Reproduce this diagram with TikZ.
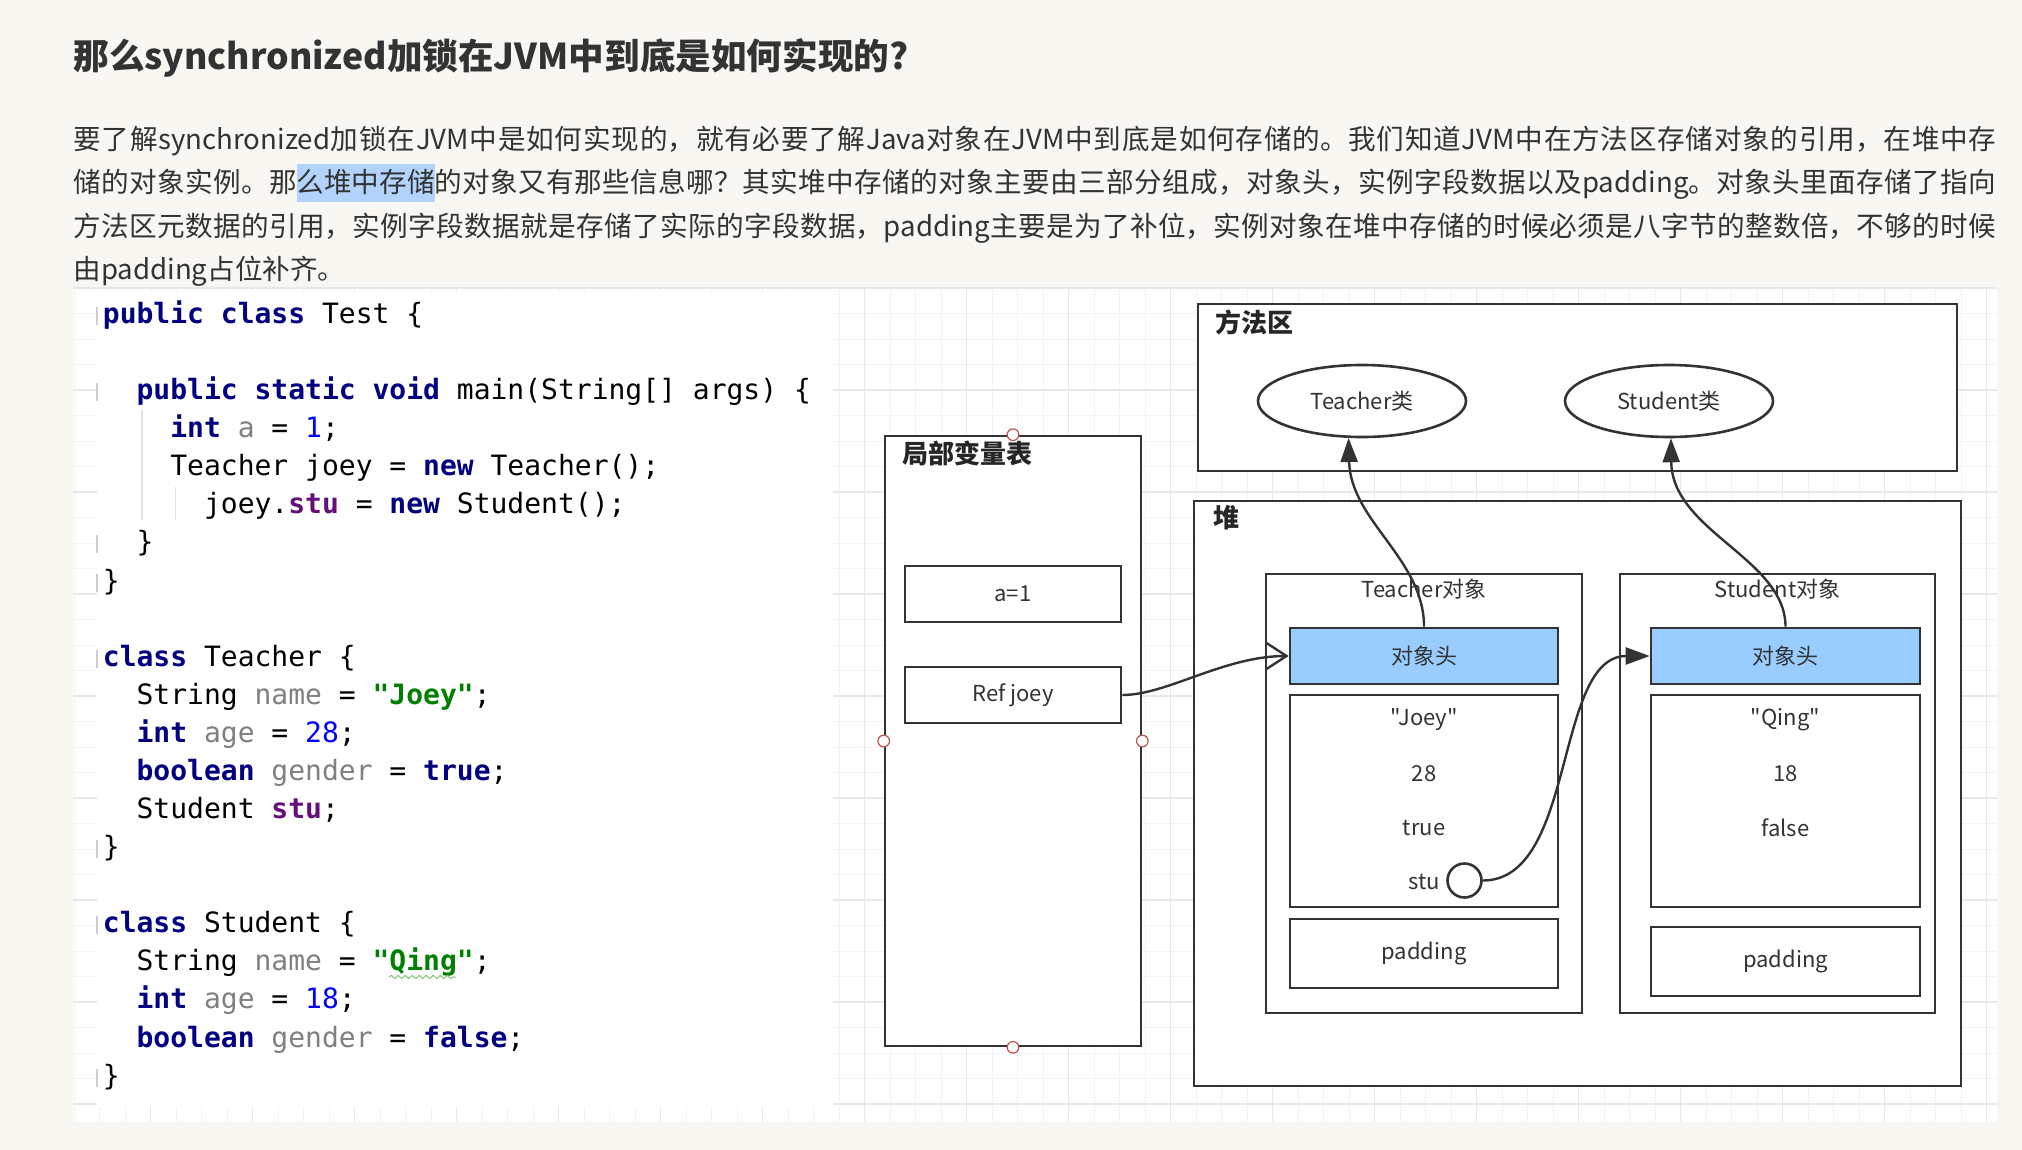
\documentclass[tikz,border=0pt]{standalone}
\usepackage{fontspec}
\usepackage{xcolor}
\usetikzlibrary{arrows.meta,shapes.geometric,decorations.pathmorphing}
\newfontfamily\cjk{Noto Sans CJK SC}
\newfontfamily\codefont{DejaVu Sans Mono}[WordSpace={1,0,0}]
\XeTeXlinebreaklocale "zh"
\XeTeXlinebreakskip=0pt plus 1.5pt minus 0.4pt
\definecolor{pagebg}{RGB}{249,247,241}
\definecolor{gridminor}{RGB}{243,243,243}
\definecolor{gridmajor}{RGB}{232,232,232}
\definecolor{inkgray}{RGB}{51,51,51}
\definecolor{linegray}{RGB}{51,51,51}
\definecolor{headblue}{RGB}{153,204,255}
\definecolor{selblue}{RGB}{178,212,252}
\definecolor{handlered}{RGB}{184,84,80}
\definecolor{kwnavy}{RGB}{0,0,128}
\definecolor{numblue}{RGB}{0,0,255}
\definecolor{strgreen}{RGB}{0,128,0}
\definecolor{fldpurple}{RGB}{102,14,122}
\definecolor{unusedgray}{RGB}{128,128,128}
\definecolor{guidegray}{RGB}{205,205,205}
\definecolor{wavegreen}{RGB}{130,195,120}

\begin{document}
\begin{tikzpicture}[x=0.5pt, y=-0.5pt,
    every node/.style={inner sep=0pt},
    prose/.style={anchor=base west, font=\cjk\fontsize{13.8}{17}\selectfont,
      text=inkgray},
    codeline/.style={anchor=base west, font=\codefont\fontsize{14}{17}\selectfont},
    txt/.style={font=\cjk\fontsize{11}{13}\selectfont, text=inkgray},
    area/.style={draw=linegray, line width=1.3pt, fill=white},
    cell/.style={area, txt, minimum width=108pt, minimum height=28pt},
    slot/.style={area, minimum width=134pt},
    areatitle/.style={anchor=west, font=\cjk\bfseries\fontsize{13}{15}\selectfont,
      text=black!85},
    handle/.style={circle, draw=handlered, fill=white, line width=0.6pt,
      minimum size=5.8pt},
    link/.style={draw=linegray, line width=1.2pt},
    ptr/.style={link, -{Triangle[length=12pt, width=8.5pt]}},
    openptr/.style={link, -{Straight Barb[length=10pt, width=13pt]}}
  ]
  \newcommand{\kw}[1]{\textcolor{kwnavy}{\bfseries #1}}
  \newcommand{\jnum}[1]{\textcolor{numblue}{#1}}
  \newcommand{\jstr}[1]{\textcolor{strgreen}{\bfseries #1}}
  \newcommand{\jfld}[1]{\textcolor{fldpurple}{\bfseries #1}}
  \newcommand{\jvar}[1]{\textcolor{unusedgray}{#1}}
  \newcommand{\selhl}[1]{{\setlength{\fboxsep}{0pt}%
    \colorbox{selblue}{\rule[-4.5pt]{0pt}{19pt}#1}}}
  \newcommand{\codeat}[4]{%
    \node[codeline] (#1) at (102.5+16.86*#2,323.5+38.08*#3) {#4};}

  \useasboundingbox (0,0) rectangle (2022,1150);
  \fill[pagebg] (0,0) rectangle (2022,1150);
  \fill[white] (73,287) rectangle (1997,1122);
  \foreach \k in {-35,...,40}
    \draw[gridminor, line width=0.5pt] (966.5+25.5*\k,287) -- (966.5+25.5*\k,1122);
  \foreach \k in {-23,...,8}
    \draw[gridminor, line width=0.5pt] (73,900+25.5*\k) -- (1997,900+25.5*\k);
  \foreach \k in {-32,-28,...,40}
    \draw[gridmajor, line width=0.6pt] (966.5+25.5*\k,287) -- (966.5+25.5*\k,1122);
  \foreach \k in {-24,-20,...,8}
    \draw[gridmajor, line width=0.6pt] (73,900+25.5*\k) -- (1997,900+25.5*\k);

  \node[prose, font=\cjk\bfseries\fontsize{17.8}{20}\selectfont] (heading)
    at (73,69.5) {那么synchronized加锁在JVM中到底是如何实现的?};
  \node[prose, text width=961.5pt, align=justify] (para1) at (73,150)
    {\noindent\parfillskip=0pt 要了解synchronized加锁在JVM中是如何实现的，就有必要了解Java对象在JVM中到底是如何存储的。我们知道JVM中在方法区存储对象的引用，在堆中存\par};
  \node[prose, text width=961.5pt, align=justify] (para2) at (73,193)
    {\noindent\parfillskip=0pt 储的对象实例。那\selhl{么堆中存储}的对象又有那些信息哪？其实堆中存储的对象主要由三部分组成，对象头，实例字段数据以及padding。对象头里面存储了指向\par};
  \node[prose, text width=961.5pt, align=justify] (para3) at (73,236)
    {\noindent\parfillskip=0pt 方法区元数据的引用，实例字段数据就是存储了实际的字段数据，padding主要是为了补位，实例对象在堆中存储的时候必须是八字节的整数倍，不够的时候\par};
  \node[prose] (para4) at (73,279) {由padding占位补齐。};

  \fill[white] (97,292) rectangle (833,1107);
  \foreach \r in {0,2,6,7,9,14,16,20}
    \draw[guidegray, line width=0.8pt] (97,307+38.08*\r) -- (97,325+38.08*\r);
  \draw[guidegray!55, line width=0.7pt] (142,410) -- (142,520);
  \draw[guidegray!55, line width=0.7pt] (175.5,487) -- (175.5,520);
  \codeat{test}{0}{0}{\kw{public} \kw{class} Test \{}
  \codeat{main}{2}{2}{\kw{public} \kw{static} \kw{void} main(String[] args) \{}
  \codeat{inta}{4}{3}{\kw{int} \jvar{a} = \jnum{1};}
  \codeat{newt}{4}{4}{Teacher joey = \kw{new} Teacher();}
  \codeat{news}{6}{5}{joey.\jfld{stu} = \kw{new} Student();}
  \codeat{mainend}{2}{6}{\}}
  \codeat{testend}{0}{7}{\}}
  \codeat{tclass}{0}{9}{\kw{class} Teacher \{}
  \codeat{tname}{2}{10}{String \jvar{name} = \jstr{"Joey"};}
  \codeat{tage}{2}{11}{\kw{int} \jvar{age} = \jnum{28};}
  \codeat{tgender}{2}{12}{\kw{boolean} \jvar{gender} = \kw{true};}
  \codeat{tstu}{2}{13}{Student \jfld{stu};}
  \codeat{tend}{0}{14}{\}}
  \codeat{sclass}{0}{16}{\kw{class} Student \{}
  \codeat{sname}{2}{17}{String \jvar{name} = \jstr{"Qing"};}
  \codeat{sage}{2}{18}{\kw{int} \jvar{age} = \jnum{18};}
  \codeat{sgender}{2}{19}{\kw{boolean} \jvar{gender} = \kw{false};}
  \codeat{send}{0}{20}{\}}
  \draw[wavegreen, line width=0.5pt, decorate,
    decoration={snake, amplitude=0.8pt, segment length=3.5pt}]
    (389,977) -- (456,977);

  \node[area, minimum width=128pt, minimum height=305pt] (locals) at (1013,741) {};
  \node[areatitle] (localstitle) at (902,453) {局部变量表};
  \node[cell] (aval) at (1013,594) {a=1};
  \node[cell] (refj) at (1013,695) {Ref joey};

  \node[area, minimum width=379.5pt, minimum height=83.5pt] (method) at (1577.5,387.5) {};
  \node[areatitle] (methodtitle) at (1215,322) {方法区};
  \node[area, txt, ellipse, minimum width=104pt, minimum height=36pt] (tcls)
    at (1362,401) {Teacher类};
  \node[area, txt, ellipse, minimum width=104pt, minimum height=36pt] (scls)
    at (1669,401) {Student类};

  \node[area, minimum width=383.5pt, minimum height=292.5pt] (heap) at (1577.5,793.5) {};
  \node[areatitle] (heaptitle) at (1213,518) {堆};

  \node[area, minimum width=158pt, minimum height=219.5pt] (tobj) at (1424,793.5) {};
  \node[txt] (tobjtitle) at (1424,589) {Teacher对象};
  \node[slot, txt, fill=headblue, minimum height=28pt] (thead) at (1424,656) {对象头};
  \node[slot, minimum height=106pt] (tfield) at (1424,801) {};
  \node[txt] (tnameval) at (1424,720) {"Joey"};
  \node[txt] (tageval) at (1424,774) {28};
  \node[txt] (tgenderval) at (1424,828) {true};
  \node[txt] (tstuval) at (1424,882) {stu};
  \node[circle, area, minimum size=17pt] (stuport) at (1464.5,880.5) {};
  \node[slot, txt, minimum height=34.5pt] (tpad) at (1424,953.5) {padding};

  \node[area, minimum width=157.5pt, minimum height=219.5pt] (sobj) at (1777.5,793.5) {};
  \node[txt] (sobjtitle) at (1777.5,589) {Student对象};
  \node[slot, txt, fill=headblue, minimum height=28pt, minimum width=134.5pt] (shead)
    at (1785.5,656) {对象头};
  \node[slot, minimum height=106pt, minimum width=134.5pt] (sfield) at (1785.5,801) {};
  \node[txt] (snameval) at (1785.5,720) {"Qing"};
  \node[txt] (sageval) at (1785.5,774) {18};
  \node[txt] (sgenderval) at (1785.5,828) {false};
  \node[slot, txt, minimum height=34.5pt, minimum width=134.5pt] (spad)
    at (1785.5,961.5) {padding};

  \draw[ptr] (thead.north) .. controls +(0,-68) and +(2,83) .. (tcls.250);
  \draw[ptr] (shead.north) .. controls +(0,-68) and +(1,93) .. (scls.273);
  \draw[openptr] (refj.east) .. controls +(45,0) and +(-65,0) .. (thead.west);
  \draw[ptr] (stuport.east) .. controls +(94,0) and +(-96,0) .. (shead.west);

  \foreach \a in {north,south,east,west}
    \node[handle] at (locals.\a) {};
\end{tikzpicture}
\end{document}
